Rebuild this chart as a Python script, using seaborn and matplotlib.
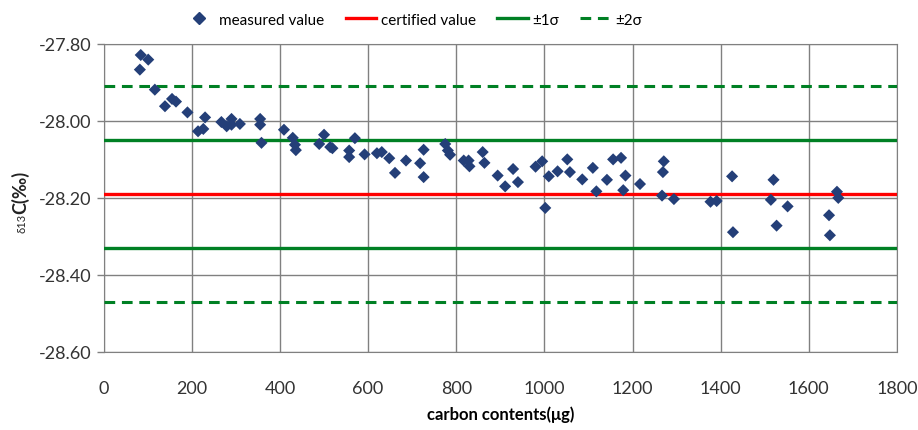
import pandas as pd
import matplotlib.pyplot as plt
import seaborn as sns
from matplotlib.lines import Line2D

# measured points
carbon_ug = [82, 84, 101, 116, 139, 155, 164, 190, 214, 226, 230, 267, 279, 290, 290,
             309, 355, 355, 358, 409, 429, 434, 436, 489, 500, 514, 519, 557, 557, 570,
             592, 620, 631, 648, 661, 686, 718, 726, 726, 775, 781, 786, 817, 828, 830,
             860, 864, 894, 911, 929, 940, 980, 995, 1002, 1010, 1030, 1052, 1058, 1086,
             1110, 1118, 1142, 1156, 1174, 1184, 1179, 1217, 1271, 1269, 1267, 1294,
             1377, 1391, 1426, 1428, 1520, 1514, 1552, 1527, 1646, 1648, 1664, 1667]
d13c = [-27.867, -27.829, -27.841, -27.919, -27.962, -27.943, -27.950, -27.978, -28.027,
        -28.021, -27.991, -28.003, -28.014, -27.995, -28.010, -28.008, -27.995, -28.010,
        -28.057, -28.023, -28.044, -28.062, -28.076, -28.060, -28.036, -28.068, -28.071,
        -28.077, -28.094, -28.045, -28.087, -28.084, -28.081, -28.097, -28.135, -28.103,
        -28.110, -28.075, -28.146, -28.060, -28.077, -28.088, -28.103, -28.103, -28.118,
        -28.081, -28.109, -28.142, -28.170, -28.125, -28.159, -28.119, -28.105, -28.226,
        -28.144, -28.131, -28.100, -28.133, -28.152, -28.122, -28.183, -28.153, -28.100,
        -28.096, -28.142, -28.180, -28.164, -28.105, -28.133, -28.194, -28.203, -28.210,
        -28.208, -28.144, -28.289, -28.153, -28.205, -28.222, -28.272, -28.245, -28.297,
        -28.184, -28.200]

certified = -28.19
sigma = 0.14
y_ticks = [-28.6, -28.4, -28.2, -28.0, -27.8]

df = pd.DataFrame({'carbon': carbon_ug, 'd13c': d13c})

plt.rcParams['font.family'] = ['Lato', 'DejaVu Sans']
fig = plt.figure(figsize=(9.18, 4.31), dpi=100)
ax = fig.add_axes([0.113, 0.181, 0.864, 0.715])

sns.scatterplot(data=df, x='carbon', y='d13c', marker='D', s=38, color='#243F78',
                edgecolor='none', ax=ax, zorder=5)

green = '#008024'
dash = (0, (3.5, 2.2))
ax.axhline(certified, color='#FF0000', lw=2.4, zorder=3)
ax.axhline(certified + sigma, color=green, lw=2.4, zorder=3)
ax.axhline(certified - sigma, color=green, lw=2.4, zorder=3)
ax.axhline(certified + 2 * sigma, color=green, lw=2.2, ls=dash, zorder=3)
ax.axhline(certified - 2 * sigma, color=green, lw=2.2, ls=dash, zorder=3)

ax.set_xlim(0, 1800)
ax.set_ylim(-28.6, -27.8)
ax.set_xticks(range(0, 1801, 200))
ax.set_yticks(y_ticks)
ax.set_yticklabels([f'{v:.2f}' for v in y_ticks])
ax.grid(True, color='#808080', lw=1)
ax.set_axisbelow(True)
for s in ax.spines.values():
    s.set_color('#808080')
ax.tick_params(labelsize=13, colors='#333333')
ax.tick_params(axis='y', length=5, width=1, color='#808080', pad=4)
ax.tick_params(axis='x', length=0, pad=20)

ax.set_xlabel('carbon contents(μg)', fontsize=12, fontweight='bold', labelpad=7)
ax.set_ylabel('')
# y label: small δ13 followed by bold C(‰)
fig.text(0.022, 1 - 214 / 431, 'C(‰)', rotation=90, ha='center', va='bottom',
         fontsize=13, fontweight='bold', color='#222222')
fig.text(0.024, 1 - 214 / 431, 'δ13', rotation=90, ha='center', va='top',
         fontsize=8, color='#222222')

handles = [
    Line2D([], [], marker='D', color='#243F78', ls='none', markersize=6),
    Line2D([], [], color='#FF0000', lw=2.4),
    Line2D([], [], color=green, lw=2.4),
    Line2D([], [], color=green, lw=2.2, ls=dash),
]
fig.legend(handles, ['measured value', 'certified value', '±1σ', '±2σ'],
           loc='upper center', bbox_to_anchor=(0.45, 1.0), ncol=4, frameon=False,
           fontsize=11, handlelength=2.0, columnspacing=1.4, handletextpad=0.3)

fig.savefig('out.png', dpi=100)
